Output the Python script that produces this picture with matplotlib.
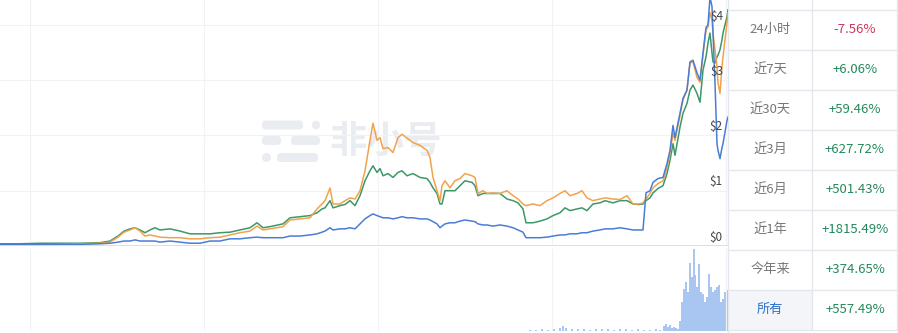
import matplotlib
matplotlib.use("Agg")
import matplotlib.pyplot as plt
import matplotlib.transforms as mtransforms
from matplotlib.patches import FancyBboxPatch, Rectangle, Circle

plt.rcParams['font.family'] = ['Noto Sans CJK SC', 'DejaVu Sans']

# price history (x = day index, values in $)
days = [0, 20, 40, 60, 80, 100, 110, 118, 124, 130,
        135, 140, 145, 150, 155, 160, 170, 180, 190, 200,
        210, 220, 230, 240, 250, 257, 263, 270, 283, 290,
        300, 310, 317, 322, 325, 330, 333, 340, 345, 350,
        355, 360, 365, 370, 373, 377, 380, 383, 388, 393,
        398, 402, 407, 413, 420, 427, 430, 433, 437, 440,
        442, 445, 450, 455, 460, 465, 472, 475, 478, 483,
        487, 493, 500, 507, 513, 518, 523, 526, 533, 540,
        547, 553, 560, 565, 570, 577, 582, 587, 593, 600,
        605, 613, 620, 627, 633, 639, 643, 646, 650, 653,
        658, 663, 667, 670, 673, 675, 680, 683, 687, 690,
        693, 697, 700, 703, 706, 708, 710, 712, 713, 715,
        717, 718, 720, 722, 723, 727, 728]

orange = [0.02, 0.02, 0.02, 0.03, 0.04, 0.05, 0.07, 0.16, 0.25, 0.29,
          0.33, 0.27, 0.18, 0.20, 0.18, 0.16, 0.15, 0.15, 0.13, 0.13,
          0.15, 0.16, 0.20, 0.24, 0.27, 0.36, 0.29, 0.31, 0.35, 0.47,
          0.49, 0.51, 0.67, 0.76, 0.82, 1.05, 0.76, 0.76, 0.82, 0.87,
          0.85, 1.00, 1.36, 1.91, 2.22, 1.91, 1.96, 1.76, 1.78, 1.69,
          1.96, 2.02, 1.95, 1.87, 1.82, 1.73, 1.60, 1.24, 1.00, 0.82,
          1.09, 1.18, 1.05, 1.18, 1.22, 1.31, 1.27, 1.24, 0.95, 1.00,
          0.95, 0.96, 0.95, 1.00, 0.91, 0.85, 0.76, 0.73, 0.76, 0.73,
          0.82, 0.87, 0.95, 1.00, 0.91, 0.95, 1.00, 0.87, 0.82, 0.85,
          0.87, 0.85, 0.84, 0.91, 0.76, 0.76, 0.78, 0.85, 0.95, 1.05,
          1.13, 1.18, 1.42, 1.67, 2.04, 1.91, 2.36, 2.64, 2.82, 3.31,
          3.33, 3.05, 2.96, 3.45, 3.91, 3.96, 4.22, 4.09, 3.85, 3.55,
          3.24, 2.95, 2.76, 3.24, 3.42, 4.04, 4.22]

green = [0.04, 0.04, 0.05, 0.05, 0.05, 0.06, 0.09, 0.18, 0.27, 0.31,
         0.33, 0.29, 0.24, 0.29, 0.33, 0.29, 0.31, 0.27, 0.22, 0.22,
         0.22, 0.24, 0.25, 0.29, 0.33, 0.42, 0.33, 0.35, 0.40, 0.51,
         0.53, 0.55, 0.60, 0.67, 0.69, 0.82, 0.69, 0.73, 0.75, 0.82,
         0.73, 0.91, 1.18, 1.36, 1.45, 1.33, 1.40, 1.27, 1.31, 1.24,
         1.33, 1.36, 1.27, 1.31, 1.24, 1.22, 1.15, 1.05, 0.95, 0.76,
         0.76, 1.00, 1.00, 1.00, 1.09, 1.18, 1.15, 1.09, 0.91, 0.95,
         0.95, 0.95, 0.95, 0.85, 0.82, 0.78, 0.67, 0.42, 0.42, 0.45,
         0.49, 0.55, 0.60, 0.69, 0.64, 0.67, 0.69, 0.64, 0.76, 0.78,
         0.82, 0.78, 0.82, 0.82, 0.76, 0.75, 0.76, 0.82, 0.87, 0.96,
         1.04, 1.09, 1.31, 1.55, 1.85, 1.64, 2.15, 2.40, 2.58, 2.82,
         2.91, 2.76, 2.60, 3.18, 3.42, 3.67, 3.85, 3.49, 3.33, 3.31,
         3.42, 3.45, 3.55, 3.73, 3.85, 4.15, 4.27]

blue = [0.03, 0.03, 0.03, 0.03, 0.03, 0.04, 0.05, 0.07, 0.09, 0.09,
        0.11, 0.09, 0.09, 0.09, 0.09, 0.07, 0.09, 0.07, 0.05, 0.05,
        0.09, 0.09, 0.13, 0.13, 0.15, 0.16, 0.15, 0.15, 0.15, 0.18,
        0.18, 0.20, 0.22, 0.25, 0.27, 0.33, 0.29, 0.31, 0.31, 0.33,
        0.31, 0.40, 0.49, 0.55, 0.58, 0.55, 0.53, 0.51, 0.51, 0.49,
        0.51, 0.53, 0.51, 0.51, 0.49, 0.49, 0.47, 0.44, 0.40, 0.33,
        0.36, 0.40, 0.42, 0.42, 0.45, 0.47, 0.45, 0.44, 0.40, 0.38,
        0.38, 0.36, 0.38, 0.36, 0.33, 0.29, 0.25, 0.15, 0.15, 0.15,
        0.16, 0.18, 0.20, 0.20, 0.22, 0.22, 0.24, 0.24, 0.27, 0.29,
        0.31, 0.31, 0.33, 0.31, 0.29, 0.29, 0.29, 0.96, 1.00, 1.15,
        1.22, 1.24, 1.49, 1.73, 2.18, 1.96, 2.40, 2.67, 2.82, 3.33,
        3.36, 3.13, 3.00, 3.49, 3.95, 4.00, 4.50, 4.33, 3.85, 2.95,
        1.85, 1.73, 1.58, 1.78, 1.85, 2.27, 2.33]

vol_days = [530, 536, 542, 548, 554, 560, 563, 566, 572, 578,
            584, 590, 596, 602, 608, 614, 620, 626, 632, 638,
            644, 650, 656, 660, 664, 666, 668, 670, 672, 674,
            676, 678, 680, 682, 684, 686, 688, 690, 692, 694,
            695, 697, 699, 701, 703, 705, 707, 709, 711, 713,
            715, 717, 719, 721, 723, 725, 727]
volume = [1, 1, 2, 1, 2, 3, 5, 3, 2, 2,
          2, 1, 2, 2, 2, 1, 2, 2, 1, 2,
          1, 1, 2, 1, 5, 7, 4, 6, 3, 4,
          3, 2, 10, 30, 43, 50, 40, 70, 55, 85,
          57, 45, 69, 40, 38, 30, 35, 58, 45, 40,
          42, 45, 47, 30, 33, 40, 42]

price_ticks = [0, 1, 2, 3, 4]
date_grid = [30, 204, 378, 552, 726]

periods = ["24小时", "近7天", "近30天", "近3月", "近6月", "近1年", "今年来", "所有"]
changes = ["-7.56%", "+6.06%", "+59.46%", "+627.72%", "+501.43%", "+1815.49%", "+374.65%", "+557.49%"]

W, H = 898, 333
fig = plt.figure(figsize=(W / 100, H / 100), dpi=100)

# background layer in pixel coordinates (watermark + table)
bg = fig.add_axes([0, 0, 1, 1], zorder=0)
bg.set_xlim(0, W)
bg.set_ylim(H, 0)
bg.axis('off')

wm = '#e9ecf1'
for x0, x1, yc in [(262, 303, 125), (262, 281, 140.5), (291, 320, 140.5), (277, 318, 157.5)]:
    bg.add_patch(FancyBboxPatch((x0 + 4, yc - 0.5), x1 - x0 - 8, 1, boxstyle="round,pad=4",
                                fc=wm, ec='none'))
bg.add_patch(Circle((316, 125), 4.2, fc=wm, ec='none'))
bg.add_patch(Circle((266.5, 157.5), 4.5, fc=wm, ec='none'))
bg.text(386, 141, "非小号", fontsize=27, fontweight='bold', color=wm, ha='center', va='center')

# table
line_c = '#e4e7ec'
row_h = 40
top = 9.5
bg.add_patch(Rectangle((728, top + 7 * row_h), 84, row_h, fc='#f3f5f9', ec='none'))
for k in range(len(periods) + 1):
    bg.plot([728, 897], [top + k * row_h] * 2, color=line_c, lw=1)
bg.plot([728, 728], [0, H], color=line_c, lw=1)
bg.plot([812, 812], [0, top + 8 * row_h], color=line_c, lw=1)
bg.plot([897, 897], [0, top + 8 * row_h], color=line_c, lw=1)
for k, (p, c) in enumerate(zip(periods, changes)):
    yc = top + k * row_h + row_h / 2
    pc = '#2c6dc8' if p == "所有" else '#777777'
    vc = '#c8385a' if c.startswith('-') else '#23895c'
    bg.text(770, yc, p, fontsize=9.5, color=pc, ha='center', va='center')
    bg.text(855, yc, c, fontsize=9.5, color=vc, ha='center', va='center')

# price chart
ax = fig.add_axes([0, (H - 246) / H, 728 / W, 246 / H], zorder=2)
ax.patch.set_alpha(0)
ax.plot(days, green, color='#3b9868', lw=1.1)
ax.plot(days, orange, color='#f2a24c', lw=1.1)
ax.plot(days, blue, color='#4a7dd6', lw=1.1)
ax.set_xlim(0, 728)
ax.set_ylim(0, 246 / 55.3)
ax.set_xticks(date_grid)
ax.set_yticks(price_ticks)
ax.grid(True, color='#f1f2f5', lw=0.8)
ax.axhline(0, color='#d6d9de', lw=1.2)
ax.tick_params(length=0, labelbottom=False, labelleft=False)
for s in ax.spines.values():
    s.set_visible(False)
trans = mtransforms.blended_transform_factory(ax.transAxes, ax.transData)
for t in price_ticks:
    ax.text(0.993, t + 0.04, f"${t}", transform=trans, ha='right', va='bottom',
            fontsize=8.5, color='#444444')

# volume
axv = fig.add_axes([0, 2 / H, 728 / W, (331 - 249) / H], zorder=2)
axv.patch.set_alpha(0)
axv.bar(vol_days, volume, width=1.5, color='#a9c6f3', linewidth=0)
axv.set_xlim(0, 728)
axv.set_ylim(0, 84)
axv.set_xticks(date_grid)
axv.set_yticks([])
axv.grid(True, axis='x', color='#f1f2f5', lw=0.8)
axv.tick_params(length=0, labelbottom=False, labelleft=False)
for s in axv.spines.values():
    s.set_visible(False)

fig.savefig("out.png", dpi=100)
